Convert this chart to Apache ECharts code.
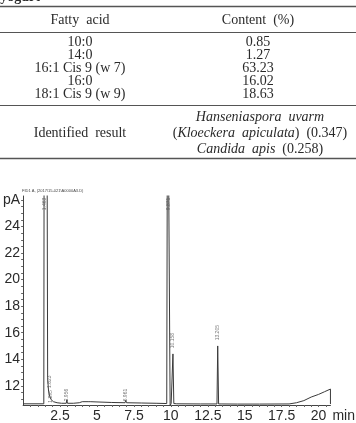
<!DOCTYPE html>
<html><head><meta charset="utf-8">
<script src="https://cdn.jsdelivr.net/npm/echarts@6/dist/echarts.min.js"></script>
<style>html,body{margin:0;padding:0;background:#fff}#c{width:356px;height:423px}</style>
</head><body><div id="c"></div>
<script>
// ---- table content ----
const tableTitle = 'yogurt';
const tableHeader = ['Fatty  acid', 'Content  (%)'];
const fattyAcids = ['10:0', '14:0', '16:1 Cis 9 (w 7)', '16:0', '18:1 Cis 9 (w 9)'];
const contents = ['0.85', '1.27', '63.23', '16.02', '18.63'];
const resultLabel = 'Identified  result';
const resultLines = ['{i|Hanseniaspora  uvarm}', '({i|Kloeckera  apiculata})  (0.347)', '{i|Candida  apis}  (0.258)'];

// ---- chromatogram (time in min, signal in pA) ----
const chromTitle = 'FID1 A, (2017\\15-021\\A0000A3.D)';
const times  = [0, 1.40, 1.43, 1.60, 1.66, 1.72, 1.80, 1.90, 2.05, 2.30, 2.60, 2.92, 2.96, 3.00, 3.40, 3.80, 4.00, 4.40, 4.47, 4.54, 5.00, 6.00, 6.90, 6.95, 7.00, 8.00, 9.00, 9.72, 9.78, 9.88, 9.95, 10.02, 10.10, 10.14, 10.20, 10.40, 12.00, 13.12, 13.17, 13.23, 13.40, 13.46, 13.52, 14.50, 16.00, 18.00, 18.50, 19.00, 19.50, 20.00, 20.40, 20.80, 20.80];
const signal = [10.64, 10.64, 40, 40, 12.6, 11.6, 11.2, 10.95, 10.8, 10.72, 10.68, 10.68, 10.95, 10.68, 10.68, 10.72, 10.8, 10.8, 10.92, 10.8, 10.78, 10.74, 10.72, 10.9, 10.72, 10.7, 10.68, 10.66, 40, 40, 10.5, 10.66, 10.66, 14.4, 10.66, 10.64, 10.63, 10.63, 15.0, 10.63, 10.63, 10.78, 10.64, 10.62, 10.62, 10.63, 10.72, 10.88, 11.15, 11.35, 11.55, 11.75, 10.62];

// retention-time annotations
const peakTimes  = [1.44, 1.76, 1.84, 2.96, 6.96, 9.82, 10.14, 13.18];
const peakTexts  = ['1.463', '1.823', '1.895', '2.956', '6.961', '9.871', '10.158', '13.205'];
const peakLabelY = [25.7, 12.3, 11.2, 11.3, 11.3, 25.7, 15.4, 16.0];

// axis ticks
const yLabelValues = [12, 14, 16, 18, 20, 22, 24, 26];
const yTickValues = [11, 11.5, 12, 12.5, 13, 13.5, 14, 14.5, 15, 15.5, 16, 16.5, 17, 17.5, 18, 18.5, 19, 19.5, 20, 20.5, 21, 21.5, 22, 22.5, 23, 23.5, 24, 24.5, 25, 25.5, 26];
const xLabelValues = [2.5, 5, 7.5, 10, 12.5, 15, 17.5, 20];
const xTickValues = [0.5, 1, 1.5, 2, 2.5, 3, 3.5, 4, 4.5, 5, 5.5, 6, 6.5, 7, 7.5, 8, 8.5, 9, 9.5, 10, 10.5, 11, 11.5, 12, 12.5, 13, 13.5, 14, 14.5, 15, 15.5, 16, 16.5, 17, 17.5, 18, 18.5, 19, 19.5, 20, 20.5];

const serif = '"Liberation Serif", "DejaVu Serif", serif';
const sans = '"Liberation Sans", Arial, sans-serif';
const txtCol = '#2a2a2a';
const colL = 80, colR = 258;

const graphics = [];
function t(x, y, text, extra) {
  graphics.push({ type: 'text', x: x, y: y, style: Object.assign({ text: text, fill: txtCol, font: '14px ' + serif, textAlign: 'center', textVerticalAlign: 'middle', rich: { i: { fontStyle: 'italic', fontFamily: serif, fontSize: 14, fill: txtCol } } }, extra || {}) });
}
function hline(y, w) {
  graphics.push({ type: 'line', shape: { x1: 0, y1: y, x2: 356, y2: y }, style: { stroke: '#555', lineWidth: w } });
}
t(20, -3, tableTitle, { font: 'bold 14px ' + serif });
hline(6.5, 1.6);
t(colL, 20, tableHeader[0]); t(colR, 20, tableHeader[1]);
hline(32.5, 1);
const rowY0 = 42, rowStep = 13;
fattyAcids.forEach((fa, i) => { t(colL, rowY0 + i * rowStep, fa); t(colR, rowY0 + i * rowStep, contents[i]); });
hline(105.5, 1);
t(colL, 133, resultLabel);
resultLines.forEach((s, i) => t(colR + 2, 117 + i * 16, s));
hline(158.5, 1.6);
graphics.push({ type: 'text', x: 22, y: 191, style: { text: chromTitle, fill: '#444', font: '4px ' + sans, textVerticalAlign: 'middle' } });

const lineData = times.map((tm, i) => [tm, signal[i]]);
const labelData = peakTimes.map((tm, i) => ({ value: [tm, peakLabelY[i]], label: { formatter: peakTexts[i] } }));

const chart = echarts.init(document.getElementById('c'), null, { renderer: 'canvas' });
chart.setOption({
  animation: false,
  backgroundColor: '#fff',
  graphic: graphics,
  grid: { left: 21, right: 23, top: 196, bottom: 17, containLabel: false },
  xAxis: {
    type: 'value', min: 0, max: 20.8,
    name: 'min', nameLocation: 'end', nameGap: 2,
    nameTextStyle: { fontFamily: sans, fontSize: 14, color: txtCol, verticalAlign: 'top', padding: [4, 0, 0, 0] },
    axisLine: { show: true, lineStyle: { color: '#444', width: 1 } },
    axisTick: { show: true, length: 2, customValues: xTickValues, lineStyle: { color: '#666' } },
    axisLabel: { customValues: xLabelValues, fontFamily: sans, fontSize: 14, color: txtCol, margin: 4 },
    splitLine: { show: false }
  },
  yAxis: {
    type: 'value', min: 10.55, max: 26.3,
    axisLine: { show: true, lineStyle: { color: '#444', width: 1 } },
    axisTick: { show: true, length: 2, customValues: yTickValues, lineStyle: { color: '#666' } },
    axisLabel: { customValues: yLabelValues, fontFamily: sans, fontSize: 14, color: txtCol, margin: 3,
      formatter: v => (v === 26 ? 'pA' : String(v)) },
    splitLine: { show: false }
  },
  series: [
    { type: 'line', data: lineData, showSymbol: false, symbol: 'none', clip: true,
      lineStyle: { color: '#3a3a3a', width: 1 }, z: 2 },
    { type: 'scatter', data: labelData, symbolSize: 0, clip: false,
      label: { show: true, position: 'inside', rotate: 90, fontFamily: sans, fontSize: 5, color: '#555' }, z: 3 }
  ]
});
</script></body></html>
